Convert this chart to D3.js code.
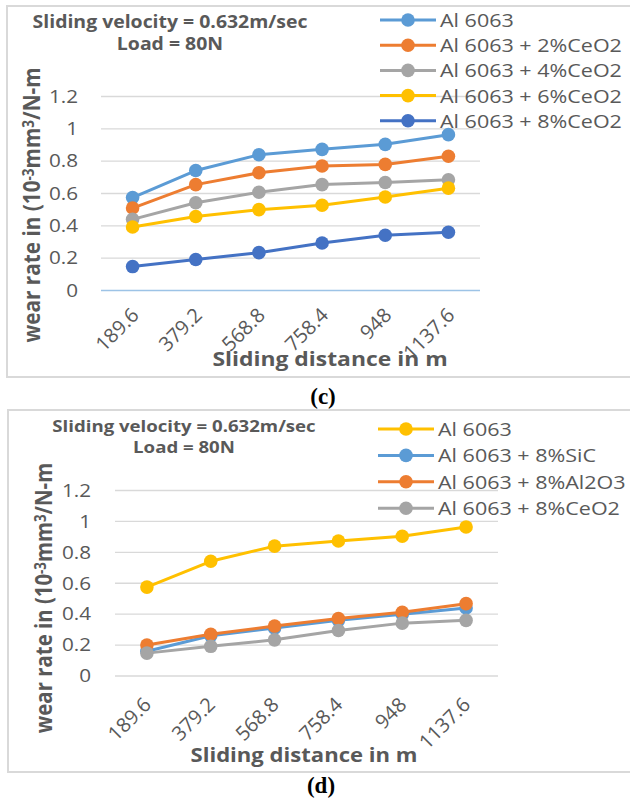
<!DOCTYPE html>
<html><head><meta charset="utf-8">
<script src="https://cdn.jsdelivr.net/npm/d3@7"></script>
<style>body{margin:0;background:#fff}svg{display:block}</style>
</head><body>
<script>
// Shared category axis and value ticks
const distances = ["189.6", "379.2", "568.8", "758.4", "948", "1137.6"];
const yTicks = [0, 0.2, 0.4, 0.6, 0.8, 1, 1.2];
const conditionLine1 = "Sliding velocity = 0.632m/sec";
const conditionLine2 = "Load = 80N";
const xTitle = "Sliding distance in m";

// Panel (c): CeO2 content series
const ceNames = ["Al 6063", "Al 6063 + 2%CeO2", "Al 6063 + 4%CeO2", "Al 6063 + 6%CeO2", "Al 6063 + 8%CeO2"];
const ceColors = ["#5B9BD5", "#ED7D31", "#A5A5A5", "#FFC000", "#4472C4"];
const al6063 = [0.575, 0.742, 0.84, 0.873, 0.904, 0.964];
const ce2 = [0.51, 0.655, 0.728, 0.77, 0.78, 0.83];
const ce4 = [0.44, 0.543, 0.608, 0.655, 0.668, 0.685];
const ce6 = [0.393, 0.458, 0.5, 0.527, 0.578, 0.633];
const ce8 = [0.148, 0.192, 0.234, 0.294, 0.342, 0.36];

// Panel (d): reinforcement comparison series
const reNames = ["Al 6063", "Al 6063 + 8%SiC", "Al 6063 + 8%Al2O3", "Al 6063 + 8%CeO2"];
const reColors = ["#FFC000", "#5B9BD5", "#ED7D31", "#A5A5A5"];
const sic8 = [0.16, 0.26, 0.31, 0.36, 0.4, 0.44];
const al2o3 = [0.2, 0.27, 0.323, 0.372, 0.412, 0.468];

const W = 630, H = 805;
const FONT = "'Open Sans', sans-serif";
const TEXT = "#595959";
const SX = 1.15; // the chart text is set slightly wide

const svg = d3.select("body").append("svg").attr("width", W).attr("height", H);

function wideText(g, x, y, str, size, bold, anchor) {
  return g.append("text").attr("transform", `translate(${x},${y}) scale(${SX},1)`)
    .attr("text-anchor", anchor || "start")
    .attr("font-family", FONT).attr("font-weight", bold ? "bold" : "normal")
    .attr("font-size", size).attr("fill", TEXT).text(str);
}

function drawPanel(p) {
  const g = svg.append("g");
  // chart frame
  g.append("rect").attr("x", p.frame[0]).attr("y", p.frame[1])
    .attr("width", p.frame[2]).attr("height", p.frame[3])
    .attr("fill", "none").attr("stroke", "#D9D9D9").attr("stroke-width", 2);

  const x = d3.scalePoint().domain(distances).range([p.left, p.right]).padding(0.5);
  const y = d3.scaleLinear().domain([0, 1.2]).range([p.y0, p.yTop]);

  // gridlines
  g.append("g").selectAll("line").data(yTicks.filter(t => t > 0)).join("line")
    .attr("x1", p.left).attr("x2", p.right)
    .attr("y1", d => y(d)).attr("y2", d => y(d))
    .attr("stroke", "#D9D9D9").attr("stroke-width", 1.3);

  // y axis labels
  const ya = g.append("g").attr("transform", `translate(${p.left},0)`)
    .call(d3.axisLeft(y).tickValues(yTicks).tickSize(0).tickFormat(d => String(d)));
  ya.select(".domain").remove();
  ya.selectAll("text").attr("font-family", FONT).attr("font-size", 18).attr("fill", TEXT)
    .attr("x", 0).attr("transform", `translate(${-p.yPad},0) scale(${SX},1)`);

  // x axis
  const xa = g.append("g").attr("transform", `translate(0,${p.y0})`)
    .call(d3.axisBottom(x).tickSize(0));
  xa.select(".domain").attr("stroke", p.axisColor).attr("stroke-width", 1.5)
    .attr("d", `M${p.left},0H${p.right}`);
  xa.selectAll("text").attr("font-family", FONT).attr("font-size", 20).attr("fill", TEXT)
    .attr("x", 0).attr("y", 0).attr("dy", 0).attr("text-anchor", "end")
    .attr("transform", `translate(${p.xLab[0]},${p.xLab[1]}) rotate(-45)`);

  // series
  const line = d3.line().x((d, i) => x(distances[i])).y(d => y(d));
  p.series.forEach((s, k) => {
    g.append("path").attr("d", line(s)).attr("fill", "none")
      .attr("stroke", p.colors[k]).attr("stroke-width", 3).attr("stroke-linejoin", "round");
    g.append("g").selectAll("circle").data(s).join("circle")
      .attr("cx", (d, i) => x(distances[i])).attr("cy", d => y(d)).attr("r", 6.8)
      .attr("fill", p.colors[k]);
  });

  // legend
  p.names.forEach((n, k) => {
    const ly = p.legY + k * p.legStep;
    g.append("line").attr("x1", p.legX).attr("x2", p.legX + 56).attr("y1", ly).attr("y2", ly)
      .attr("stroke", p.colors[k]).attr("stroke-width", 3);
    g.append("circle").attr("cx", p.legX + 28).attr("cy", ly).attr("r", 6.8).attr("fill", p.colors[k]);
    wideText(g, p.legX + 60, ly + 7, n, 18.7, false);
  });

  // test conditions
  wideText(g, p.condX, p.condY[0], conditionLine1, p.condSize, true, "middle");
  wideText(g, p.condX, p.condY[1], conditionLine2, p.condSize, true, "middle");

  // axis titles
  wideText(g, p.xTitle[0], p.xTitle[1], xTitle, p.xTitleSize, true, "middle");
  const yt = g.append("text").attr("text-anchor", "middle")
    .attr("transform", `translate(${p.yTitle[0]},${p.yTitle[1]}) scale(${SX},1) rotate(-90)`)
    .attr("font-family", FONT).attr("font-weight", "bold").attr("font-size", 17).attr("fill", TEXT);
  yt.append("tspan").text("wear rate in (10");
  yt.append("tspan").attr("font-size", "0.65em").attr("dy", "-0.4em").text("-3");
  yt.append("tspan").attr("dy", "0.26em").text("mm");
  yt.append("tspan").attr("font-size", "0.65em").attr("dy", "-0.4em").text("3");
  yt.append("tspan").attr("dy", "0.26em").text("/N-m");
  // size the rotated title to span the value axis
  const len = yt.node().getComputedTextLength();
  yt.attr("font-size", 17 * p.yTitleLen / len);

  // panel caption
  svg.append("text").attr("x", p.caption[0]).attr("y", p.caption[1]).attr("text-anchor", "middle")
    .attr("font-family", "'Liberation Serif', 'Times New Roman', serif").attr("font-weight", "bold")
    .attr("font-size", 23).attr("fill", "#000").text(p.captionText);
}

drawPanel({
  frame: [7, 6, 640, 371], left: 101, right: 480, y0: 290.5, yTop: 96.5,
  axisColor: "#9DC3E6", yPad: 23, xLab: [7, 26],
  series: [al6063, ce2, ce4, ce6, ce8], colors: ceColors, names: ceNames,
  legX: 380, legY: 20, legStep: 25.2,
  condX: 170, condY: [28, 50], condSize: 16.9, xTitle: [330, 366], xTitleSize: 19.9,
  yTitle: [40, 205], yTitleLen: 275,
  caption: [323, 404], captionText: "(c)"
});

drawPanel({
  frame: [8, 410, 640, 362], left: 115, right: 498, y0: 676, yTop: 490.5,
  axisColor: "#D9D9D9", yPad: 24, xLab: [5, 30],
  series: [al6063, sic8, al2o3, ce8], colors: reColors, names: reNames,
  legX: 378, legY: 429, legStep: 26.4,
  condX: 184, condY: [432, 453], condSize: 16.2, xTitle: [304, 762], xTitleSize: 19.2,
  yTitle: [52, 598], yTitleLen: 270,
  caption: [321, 793], captionText: "(d)"
});
</script>
</body></html>
